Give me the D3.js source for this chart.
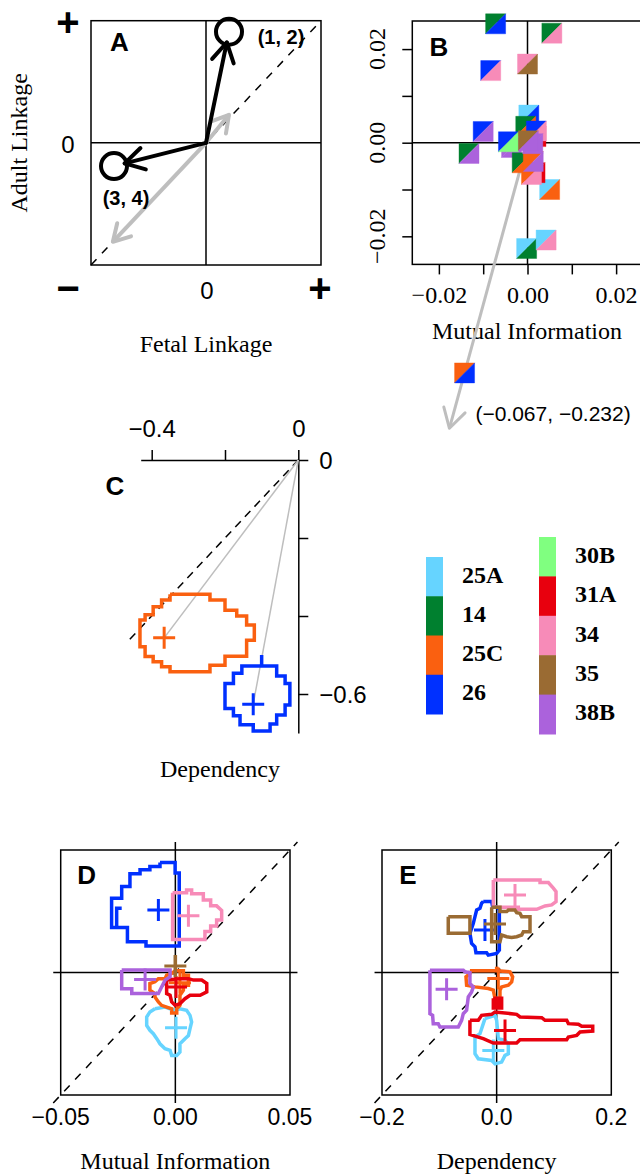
<!DOCTYPE html>
<html>
<head>
<meta charset="utf-8">
<script src="https://cdn.jsdelivr.net/npm/d3@7"></script>
<style>
  body { margin: 0; background: #fff; }
  svg { display: block; }
</style>
</head>
<body>
<svg id="chart" width="640" height="1175"></svg>
<script>
"use strict";

// groups and their colours (legend order)
var groups = ["25A", "14", "25C", "26", "30B", "31A", "34", "35", "38B"];
var groupColors = ["#66d4ff", "#00802f", "#fa6010", "#0030ff", "#80ff80", "#e8000e", "#f78bb8", "#9a6b33", "#ab62dc"];
var legendLeft = ["25A", "14", "25C", "26"];
var legendRight = ["30B", "31A", "34", "35", "38B"];

// A: schematic (fetal, adult) linkage
var schemeLabels = ["(1, 2)", "(3, 4)"];
var schemeX = [0.2, -0.8];
var schemeY = [0.91, -0.19];
var schemeGrayX = [0.2, -0.81];
var schemeGrayY = [0.23, -0.81];

// B: mutual information, pairs of groups (upper-left / lower-right colour)
var pairX = [-0.0072, 0.0055, -0.0083, 0.0000, 0.0003, -0.0100, -0.0132, 0.0050, -0.0002, 0.0042,
             0.0017, 0.0009, 0.0019, -0.0004, 0.0020, -0.0036, -0.0043, -0.0012, 0.0013, 0.0012, 0.0002];
var pairY = [0.0254, 0.0234, 0.0154, 0.0168, 0.0059, 0.0024, -0.0023, -0.0100, -0.0226, -0.0208,
             -0.0064, -0.0068, 0.0013, 0.0035, 0.0025, -0.0010, 0.0002, -0.0043, -0.0040, -0.0002, 0.0004];
var pairUpper = ["14", "14", "26", "34", "25A", "26", "14", "25A", "25A", "25A",
                 "31A", "25C", "31A", "14", "26", "38B", "26", "14", "25C", "38B", "35"];
var pairLower = ["26", "34", "34", "35", "26", "38B", "38B", "25C", "14", "34",
                 "31A", "34", "31A", "25C", "34", "38B", "30B", "25C", "38B", "38B", "38B"];
var outlierXY = [-0.067, -0.232];
var outlierPair = ["25C", "26"];
var outlierMarkAt = 0.212;   // shown off-scale along its direction
var outlierArrowAt = 0.263;
var bTicks = [-0.02, -0.01, 0, 0.01, 0.02];
var bLabelTicks = [-0.02, 0, 0.02];

// C: dependency
var cGroups = ["25C", "26"];
var cCenterX = [-0.366, -0.123];
var cCenterY = [-0.456, -0.626];
var c25C = [[-0.350, -0.344], [-0.241, -0.344], [-0.241, -0.359], [-0.200, -0.359], [-0.200, -0.385], [-0.168, -0.385],
            [-0.168, -0.400], [-0.141, -0.400], [-0.141, -0.423], [-0.120, -0.423], [-0.120, -0.462], [-0.141, -0.462],
            [-0.141, -0.503], [-0.200, -0.503], [-0.200, -0.526], [-0.241, -0.526], [-0.241, -0.543], [-0.350, -0.543],
            [-0.350, -0.530], [-0.373, -0.530], [-0.373, -0.517], [-0.396, -0.517], [-0.396, -0.504], [-0.418, -0.504],
            [-0.418, -0.479], [-0.432, -0.479], [-0.432, -0.410], [-0.418, -0.410], [-0.418, -0.397], [-0.396, -0.397],
            [-0.396, -0.376], [-0.373, -0.376], [-0.373, -0.359], [-0.350, -0.359]];
var c26 = [[-0.100, -0.500], [-0.100, -0.528], [-0.059, -0.528], [-0.059, -0.554], [-0.036, -0.554], [-0.036, -0.573],
           [-0.023, -0.573], [-0.023, -0.628], [-0.036, -0.628], [-0.036, -0.654], [-0.059, -0.654], [-0.059, -0.677],
           [-0.077, -0.677], [-0.077, -0.695], [-0.123, -0.695], [-0.123, -0.679], [-0.159, -0.679], [-0.159, -0.656],
           [-0.177, -0.656], [-0.177, -0.637], [-0.200, -0.637], [-0.200, -0.573], [-0.177, -0.573], [-0.177, -0.547],
           [-0.154, -0.547], [-0.154, -0.528], [-0.100, -0.528]];
var cXTicks = [-0.4, -0.2, 0];
var cYTicks = [0, -0.2, -0.4, -0.6];

// D: mutual information contours (values x 1e-3)
var dGroups = ["25A", "25C", "26", "31A", "34", "35", "38B"];
var dCenterX = [0.3, 2.0, -7.4, 0.3, 5.7, 0.0, -13.2];
var dCenterY = [-22.5, -4.2, 25.5, -5.9, 23.2, 2.7, -2.9];
var d25A = [[-8.9, -14.8], [-4.5, -14.1], [-2.3, -14.8], [-0.1, -15.4], [2.0, -14.8], [4.9, -15.4], [6.4, -17.5], [7.1, -20.2],
            [6.4, -22.9], [5.7, -25.7], [4.2, -27.0], [2.0, -29.1], [2.0, -32.5], [0.6, -33.9], [-1.6, -33.9], [-2.3, -31.8],
            [-4.5, -31.1], [-6.7, -29.1], [-8.1, -27.0], [-9.6, -25.0], [-11.1, -23.6], [-12.5, -21.6], [-12.5, -18.2], [-11.1, -16.1]];
var d25C = [[-0.1, 0.7], [3.5, 0.7], [3.5, -1.1], [5.7, -1.1], [5.7, -5.2], [3.5, -5.2], [3.5, -7.2], [2.0, -9.3], [2.0, -13.4],
            [0.6, -14.8], [0.6, -16.5], [-1.6, -16.5], [-1.6, -14.8], [-3.8, -14.1], [-6.0, -13.4], [-7.4, -12.0], [-8.9, -10.0],
            [-8.9, -8.6], [-11.1, -7.2], [-11.1, -4.5], [-8.9, -3.8], [-7.4, -2.5], [-4.5, -2.5], [-3.8, -1.1], [-1.6, -0.4]];
var d26 = [[-6.7, 44.9], [-0.1, 44.9], [-0.1, 40.6], [1.7, 40.6], [1.7, 10.8], [-12.8, 10.8], [-12.8, 12.6], [-20.9, 12.6],
           [-20.9, 18.4], [-27.8, 18.4], [-27.8, 30.3], [-23.4, 30.3], [-23.4, 35.1], [-19.8, 35.1], [-19.8, 40.3], [-15.4, 40.3],
           [-15.4, 41.9], [-11.1, 41.9], [-11.1, 43.3], [-6.7, 43.3]];
var d26Inner = [[-23.4, 26.2], [-25.6, 26.2], [-25.6, 18.4]];
var d31A = [[-3.8, -3.1], [2.0, -2.5], [5.7, -2.5], [7.9, -3.1], [11.5, -3.1], [13.7, -4.5], [13.7, -7.9], [10.8, -9.3],
            [6.4, -9.3], [4.2, -10.7], [2.0, -12.7], [-0.1, -13.4], [-1.6, -12.0], [-2.3, -9.3], [-3.8, -8.6]];
var d34 = [[-1.2, 32.6], [4.9, 32.6], [4.9, 33.7], [7.1, 33.7], [7.1, 32.1], [12.2, 32.1], [12.2, 29.6], [15.4, 29.6],
           [15.4, 27.2], [18.0, 27.2], [20.2, 25.3], [20.2, 21.4], [18.0, 21.4], [18.0, 19.0], [15.4, 19.0], [15.4, 16.7],
           [12.9, 16.7], [12.9, 13.5], [-1.2, 13.5]];
var d35 = [[0.0, 7.1], [0.0, -1.8]];
var d38B = [[-23.4, 1.0], [-2.3, 1.0], [-2.3, -1.8], [-4.5, -3.1], [-6.0, -5.9], [-7.4, -8.6], [-19.0, -8.6], [-19.0, -6.6], [-23.4, -6.6]];
var dRings = [[d25A], [d25C], [d26, d26Inner], [d31A], [d34], [d35], [d38B]];

// E: dependency contours (values x 1e-3)
var eGroups = ["25A", "25C", "26", "31A", "34", "35", "38B"];
var eCenterX = [-5.8, 2.9, -20.4, 14.6, 32.0, -2.9, -87.3];
var eCenterY = [-127.2, -9.8, 69.3, -94.5, 126.7, 79.2, -27.3];
var e25A = [[-20.4, -75.3], [-2.9, -69.9], [0.0, -78.1], [2.9, -108.1], [14.6, -110.8], [20.4, -116.3], [20.4, -132.7],
            [14.6, -135.4], [8.7, -146.3], [-2.9, -149.1], [-8.7, -143.6], [-32.0, -140.9], [-37.8, -132.7], [-37.8, -105.4], [-29.1, -99.9]];
var e25C = [[-46.6, 2.7], [0.0, 2.7], [0.0, 9.3], [1.2, 2.7], [23.3, 1.1], [27.9, -7.1], [26.2, -15.3], [20.4, -20.7],
            [8.7, -23.5], [5.8, -28.9], [5.8, -42.6], [-2.9, -42.6], [-5.8, -28.9], [-14.6, -26.2], [-37.8, -23.5],
            [-52.4, -20.7], [-53.5, -7.1], [-46.6, -1.6]];
var e26 = [[-23.3, 115.8], [-8.7, 115.8], [-7.0, 107.6], [0.0, 106.5], [4.7, 103.2], [4.7, 36.6], [0.0, 31.1], [-14.6, 28.4],
           [-17.5, 32.2], [-36.1, 32.2], [-37.8, 42.0], [-43.7, 47.5], [-46.6, 63.9], [-40.7, 80.3], [-37.8, 91.2],
           [-34.9, 102.1], [-29.1, 104.8], [-26.2, 113.0]];
var e31A = [[-46.6, -78.1], [-32.0, -78.1], [-26.2, -69.9], [-8.7, -68.3], [-2.9, -64.4], [34.9, -68.3], [40.7, -72.6],
            [78.6, -73.7], [84.4, -78.1], [122.2, -78.1], [125.1, -83.5], [142.6, -84.6], [148.4, -87.9], [167.6, -87.9],
            [167.6, -95.6], [145.5, -97.2], [139.7, -102.6], [125.1, -105.4], [122.2, -109.7], [40.7, -109.7], [34.9, -115.2],
            [-5.8, -115.2], [-23.3, -108.1], [-32.0, -105.4], [-46.6, -101.0]];
var e31APatch = [[-5.8, -42.0], [8.7, -42.0], [8.7, -58.0], [-5.8, -58.0]];
var e34 = [[-5.8, 151.2], [75.7, 151.2], [75.7, 146.9], [90.2, 146.9], [98.9, 137.6], [103.6, 132.1], [103.6, 115.8],
           [96.0, 110.3], [84.4, 108.7], [69.8, 103.2], [37.8, 103.2], [37.8, 106.5], [-5.8, 106.5]];
var e35 = [[-8.7, 106.5], [5.8, 106.5], [5.8, 99.4], [17.5, 99.4], [20.4, 102.1], [32.0, 102.1], [34.9, 97.7], [40.7, 96.6],
           [43.7, 91.2], [58.2, 91.2], [58.2, 66.6], [46.6, 66.6], [43.7, 61.2], [34.9, 58.4], [26.2, 57.3], [17.5, 58.4],
           [8.7, 61.2], [5.8, 50.2], [-8.7, 50.2]];
var e35Side = [[-84.4, 91.2], [-46.6, 91.2], [-46.6, 63.9], [-84.4, 63.9]];
var e38B = [[-116.4, 3.8], [-58.2, 3.8], [-55.3, 1.1], [-46.6, -0.5], [-46.6, -18.0], [-40.7, -23.5], [-43.7, -31.7],
            [-49.5, -39.9], [-52.4, -61.7], [-58.2, -67.2], [-61.1, -78.1], [-66.9, -89.0], [-98.9, -89.0], [-101.9, -83.5],
            [-110.6, -83.5], [-111.7, -69.9], [-116.4, -67.2]];
var eRings = [[e25A], [e25C], [e26], [e31A, e31APatch], [e34], [e35, e35Side], [e38B]];
var eFilled = [null, null, null, e31APatch, null, null, null];

var dTicks = [-0.05, 0, 0.05];
var eTicks = [-0.2, 0, 0.2];
var UNIT = 1e-3;

// ------------------------------------------------------------------
var SANS = "'Liberation Sans', Arial, Helvetica, sans-serif";
var SERIF = "'Liberation Serif', 'Times New Roman', serif";
var svg = d3.select("#chart");
var color = d3.scaleOrdinal().domain(groups).range(groupColors);
var GRAY = "#bebebe";
var CW = 3.5; // contour stroke

function txt(g, x, y, s, font, size, weight, anchor) {
    return g.append("text")
        .attr("x", x).attr("y", y)
        .attr("font-family", font).attr("font-size", size)
        .attr("font-weight", weight || "normal")
        .attr("text-anchor", anchor || "middle")
        .attr("dominant-baseline", "central")
        .attr("fill", "#000")
        .text(s);
}
function seg(g, x1, y1, x2, y2) {
    return g.append("line")
        .attr("x1", x1).attr("y1", y1).attr("x2", x2).attr("y2", y2)
        .attr("stroke", "#000").attr("stroke-width", 1.5);
}
function box(g, x0, y0, x1, y1) {
    return g.append("rect")
        .attr("x", x0).attr("y", y0).attr("width", x1 - x0).attr("height", y1 - y0)
        .attr("fill", "none").attr("stroke", "#000").attr("stroke-width", 1.5);
}
function arrowHead(g, x0, y0, x1, y1, len, spread) {
    var a = Math.atan2(y1 - y0, x1 - x0);
    return g.append("path")
        .attr("d", d3.line()([
            [x1 - len * Math.cos(a - spread), y1 - len * Math.sin(a - spread)],
            [x1, y1],
            [x1 - len * Math.cos(a + spread), y1 - len * Math.sin(a + spread)]
        ]))
        .attr("fill", "none")
        .attr("stroke-linecap", "round").attr("stroke-linejoin", "round");
}
function cross(g, x, y, col) {
    g.append("path")
        .attr("d", "M" + (x - 11) + "," + y + "H" + (x + 11) + "M" + x + "," + (y - 11) + "V" + (y + 11))
        .attr("stroke", col).attr("stroke-width", 3).attr("fill", "none");
}

// ---------------- A ----------------
var ax = d3.scaleLinear().domain([-1, 1]).range([91, 321]);
var ay = d3.scaleLinear().domain([-1, 1]).range([265, 20.7]);
var gA = svg.append("g");
box(gA, ax(-1), ay(1), ax(1), ay(-1));
seg(gA, ax(0), ay(-1), ax(0), ay(1));
seg(gA, ax(-1), ay(0), ax(1), ay(0));
seg(gA, ax(-1), ay(-1), ax(1), ay(1)).attr("stroke-dasharray", "8,8");

schemeGrayX.forEach(function (gx, i) {
    var x1 = ax(gx), y1 = ay(schemeGrayY[i]);
    seg(gA, ax(0), ay(0), x1, y1).attr("stroke", GRAY).attr("stroke-width", 4);
    arrowHead(gA, ax(0), ay(0), x1, y1, 19, Math.PI / 6).attr("stroke", GRAY).attr("stroke-width", 4);
});
var schemeLabelDX = [52, 12], schemeLabelDY = [5, 32];
schemeX.forEach(function (sx, i) {
    var x0 = ax(0), y0 = ay(0), px = ax(sx), py = ay(schemeY[i]);
    var L = Math.hypot(px - x0, py - y0);
    var tx = px - (px - x0) / L * 11, ty = py - (py - y0) / L * 11;
    seg(gA, x0, y0, tx, ty).attr("stroke-width", 4).attr("stroke-linecap", "round");
    arrowHead(gA, x0, y0, tx, ty, 22, Math.PI / 6).attr("stroke", "#000").attr("stroke-width", 4);
    gA.append("circle").attr("cx", px).attr("cy", py).attr("r", 13)
        .attr("fill", "none").attr("stroke", "#000").attr("stroke-width", 4);
    txt(gA, px + schemeLabelDX[i], py + schemeLabelDY[i], schemeLabels[i], SANS, 20, "bold");
});
txt(gA, 119.5, 42, "A", SANS, 26, "bold");
txt(gA, 68, 22, "+", SANS, 40, "bold");
txt(gA, 68, ay(0) + 2, "0", SANS, 24);
txt(gA, 68, 288, "\u2212", SANS, 40, "bold");
txt(gA, ax(0) + 1, 290, "0", SANS, 24);
txt(gA, ax(1) - 1, 288, "+", SANS, 40, "bold");
txt(gA, 19, ay(0), "Adult Linkage", SERIF, 24).attr("transform", "rotate(-90," + 19 + "," + ay(0) + ")");
txt(gA, ax(0), 344, "Fetal Linkage", SERIF, 24);

// ---------------- B ----------------
var bx = d3.scaleLinear().domain([-0.026, 0.026]).range([412.3, 642.7]);
var by = d3.scaleLinear().domain([-0.026, 0.026]).range([264.4, 21]);
var gB = svg.append("g");
box(gB, bx(-0.026), by(0.026), bx(0.026), by(-0.026));
seg(gB, bx(0), by(0.026), bx(0), by(-0.026));
seg(gB, bx(-0.026), by(0), bx(0.026), by(0));
var bFmt = d3.format(".2f");
gB.append("g")
    .attr("transform", "translate(0," + by(-0.026) + ")")
    .call(d3.axisBottom(bx).tickValues(bTicks).tickSize(10).tickSizeOuter(0).tickPadding(12)
        .tickFormat(function (d) { return bLabelTicks.indexOf(d) >= 0 ? bFmt(d) : ""; }))
    .call(function (g) {
        g.select(".domain").remove();
        g.selectAll("line").attr("stroke-width", 1.5);
        g.selectAll("text").attr("font-family", SERIF).attr("font-size", 24);
    });
gB.append("g")
    .attr("transform", "translate(" + bx(-0.026) + ",0)")
    .call(d3.axisLeft(by).tickValues(bTicks).tickSize(10).tickSizeOuter(0).tickFormat(""))
    .call(function (g) {
        g.select(".domain").remove();
        g.selectAll("line").attr("stroke-width", 1.5);
    });
bLabelTicks.forEach(function (v) {
    txt(gB, 377, by(v), bFmt(v), SERIF, 24).attr("transform", "rotate(-90,377," + by(v) + ")");
});
txt(gB, 527, 331, "Mutual Information", SERIF, 24);
txt(gB, 439, 46.7, "B", SANS, 26, "bold");

// off-scale outlier arrow
var tipX = bx(outlierXY[0] * outlierArrowAt), tipY = by(outlierXY[1] * outlierArrowAt);
seg(gB, bx(0), by(0), tipX, tipY).attr("stroke", GRAY).attr("stroke-width", 3);
arrowHead(gB, bx(0), by(0), tipX, tipY, 22, Math.PI / 6).attr("stroke", GRAY).attr("stroke-width", 3);
var oFmt = d3.format(".3f");
txt(gB, tipX + 26, tipY - 15, "(" + oFmt(outlierXY[0]) + ", " + oFmt(outlierXY[1]) + ")", SANS, 21, "normal", "start");

function pairSquare(g, x, y, up, lo) {
    var s = g.append("g").attr("transform", "translate(" + x + "," + y + ")");
    s.append("path").attr("d", "M-10,-10L10,-10L-10,10Z").attr("fill", color(up))
        .attr("stroke", color(up)).attr("stroke-width", 0.4);
    s.append("path").attr("d", "M10,-10L10,10L-10,10Z").attr("fill", color(lo))
        .attr("stroke", color(lo)).attr("stroke-width", 0.4);
}
pairX.forEach(function (px, i) {
    pairSquare(gB, bx(px), by(pairY[i]), pairUpper[i], pairLower[i]);
});
pairSquare(gB, bx(outlierXY[0] * outlierMarkAt), by(outlierXY[1] * outlierMarkAt), outlierPair[0], outlierPair[1]);

// ---------------- C ----------------
var cx = d3.scaleLinear().domain([-0.43, 0]).range([140.7, 298.3]);
var cy = d3.scaleLinear().domain([0, -0.7]).range([460, 733]);
var gC = svg.append("g");
var c1 = d3.format(".1f");
gC.append("g")
    .attr("transform", "translate(0," + cy(0) + ")")
    .call(d3.axisTop(cx).tickValues(cXTicks).tickSize(10).tickSizeOuter(0).tickPadding(13)
        .tickFormat(function (d) { return d === 0 ? "0" : (d === -0.4 ? c1(d) : ""); }))
    .call(function (g) {
        g.selectAll("line, path").attr("stroke-width", 1.5);
        g.selectAll("text").attr("font-family", SANS).attr("font-size", 24);
    });
gC.append("g")
    .attr("transform", "translate(" + cx(0) + ",0)")
    .call(d3.axisRight(cy).tickValues(cYTicks).tickSize(10).tickSizeOuter(0).tickPadding(11)
        .tickFormat(function (d) { return d === 0 ? "0" : (d === -0.6 ? c1(d) : ""); }))
    .call(function (g) {
        g.selectAll("line, path").attr("stroke-width", 1.5);
        g.selectAll("text").attr("font-family", SANS).attr("font-size", 24).attr("dy", "0.34em");
    });
seg(gC, cx(0), cy(0), cx(-0.463), cy(-0.463)).attr("stroke-dasharray", "8,6");
var cRings = [c25C, c26];
var lineC = d3.line().x(function (d) { return cx(d[0]); }).y(function (d) { return cy(d[1]); });
cGroups.forEach(function (g, i) {
    seg(gC, cx(0), cy(0), cx(cCenterX[i]), cy(cCenterY[i])).attr("stroke", GRAY).attr("stroke-width", 1.5);
});
cGroups.forEach(function (g, i) {
    gC.append("path").attr("d", lineC(cRings[i].concat([cRings[i][0]])))
        .attr("fill", "none").attr("stroke", color(g)).attr("stroke-width", CW)
        .attr("stroke-linejoin", "miter");
    cross(gC, cx(cCenterX[i]), cy(cCenterY[i]), color(g));
});
txt(gC, 115, 486, "C", SANS, 26, "bold");
txt(gC, 220, 769, "Dependency", SERIF, 24);

// ---------------- legend ----------------
var gL = svg.append("g");
function legendColumn(names, x, top, bottom, labelX) {
    var band = d3.scaleBand().domain(names).range([top, bottom]);
    names.forEach(function (n) {
        gL.append("rect").attr("x", x).attr("y", band(n)).attr("width", 17).attr("height", band.bandwidth() + 0.5)
            .attr("fill", color(n));
        txt(gL, labelX, band(n) + band.bandwidth() / 2 - 2, n, SERIF, 24, "bold", "start");
    });
}
legendColumn(legendLeft, 426, 557, 714, 462);
legendColumn(legendRight, 539, 537, 734, 575);

// ---------------- D & E ----------------
function contourPanel(xs, ys, ext, ticks, fmt, title, letter, gNames, centersX, centersY, rings, filled) {
    var g = svg.append("g");
    var d0 = xs.domain()[0], d1 = xs.domain()[1];
    var e0 = ys.domain()[0], e1 = ys.domain()[1];
    box(g, xs(d0), ys(e1), xs(d1), ys(e0));
    seg(g, xs(0), ys(e0 * ext), xs(0), ys(e1 * ext));
    seg(g, xs(d0 * ext), ys(0), xs(d1 * ext), ys(0));
    seg(g, xs(d0 * ext), ys(e0 * ext), xs(d1 * ext), ys(e1 * ext)).attr("stroke-dasharray", "8,8");
    var line = d3.line().x(function (d) { return xs(d[0] * UNIT); }).y(function (d) { return ys(d[1] * UNIT); });
    gNames.forEach(function (name, i) {
        if (filled[i]) {
            g.append("path").attr("d", line(filled[i]) + "Z").attr("fill", color(name));
        }
        rings[i].forEach(function (r) {
            var pts = r.length > 3 ? r.concat([r[0]]) : r;
            g.append("path").attr("d", line(pts))
                .attr("fill", "none").attr("stroke", color(name)).attr("stroke-width", CW)
                .attr("stroke-linejoin", "miter").attr("stroke-miterlimit", 2);
        });
        cross(g, xs(centersX[i] * UNIT), ys(centersY[i] * UNIT), color(name));
    });
    ticks.forEach(function (t) {
        txt(g, xs(t), 1117, fmt(t), SANS, 23);
    });
    txt(g, xs(0), 1161, title, SERIF, 24);
    txt(g, xs(d0) + 26, 875, letter, SANS, 26, "bold");
}
var dx = d3.scaleLinear().domain([-0.05, 0.05]).range([60.7, 290]);
var dy = d3.scaleLinear().domain([-0.05, 0.05]).range([1095, 850]);
contourPanel(dx, dy, 1.065, dTicks, d3.format(".2f"), "Mutual Information", "D",
    dGroups, dCenterX, dCenterY, dRings, [null, null, null, null, null, null, null]);
var ex = d3.scaleLinear().domain([-0.2, 0.2]).range([382, 611.3]);
var ey = d3.scaleLinear().domain([-0.2, 0.2]).range([1095, 850]);
contourPanel(ex, ey, 1.065, eTicks, d3.format(".1f"), "Dependency", "E",
    eGroups, eCenterX, eCenterY, eRings, eFilled);
</script>
</body>
</html>
